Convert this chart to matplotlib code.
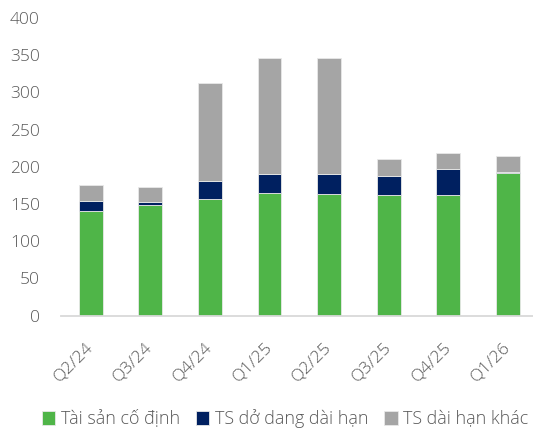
import matplotlib.pyplot as plt
import numpy as np

plt.rcParams['font.family'] = ['Open Sans', 'DejaVu Sans']
plt.rcParams['font.weight'] = 'light'

# du lieu
quy = ['Q2/24', 'Q3/24', 'Q4/24', 'Q1/25', 'Q2/25', 'Q3/25', 'Q4/25', 'Q1/26']
tscd = [141, 148, 157, 165, 163, 162, 162, 191]
ts_do_dang = [13, 5, 24, 25, 27, 26, 35, 2]
ts_khac = [21, 20, 131, 156, 156, 22, 22, 22]

mau = ['#4FB548', '#002060', '#A5A5A5']
nhan = ['Tài sản cố định', 'TS dở dang dài hạn', 'TS dài hạn khác']

fig = plt.figure(figsize=(5.33, 4.34), dpi=100)
ax = fig.add_axes([0.114, 0.273, 0.895, 0.6855])

x = np.arange(len(quy))
day = np.zeros(len(quy))
for vals, c, lb in zip([tscd, ts_do_dang, ts_khac], mau, nhan):
    ax.bar(x, vals, 0.4, bottom=day, color=c, label=lb,
           edgecolor='#E8E8E8', linewidth=0.6)
    day += np.array(vals)

ax.set_xlim(-0.5, 7.5)
ax.set_ylim(0, 400)
ax.set_yticks(range(0, 401, 50))
for s in ['top', 'right', 'left']:
    ax.spines[s].set_visible(False)
ax.spines['bottom'].set_color('#D9D9D9')
ax.spines['bottom'].set_linewidth(1.3)

ax.set_xticks(x)
ax.set_xticklabels(quy, rotation=45, ha='right', va='center',
                   rotation_mode='anchor')
ax.tick_params(axis='both', length=0, labelsize=12.5, labelcolor='#595959')
ax.tick_params(axis='y', pad=15)
ax.tick_params(axis='x', pad=21)

leg = fig.legend(loc='center', bbox_to_anchor=(0.535, 0.035), ncol=3,
                 frameon=False, fontsize=12.9, handlelength=0.75,
                 handleheight=0.75, handletextpad=0.3, columnspacing=0.9,
                 borderaxespad=0, borderpad=0)
for t in leg.get_texts():
    t.set_color('#595959')

fig.savefig('out.png', dpi=100)
